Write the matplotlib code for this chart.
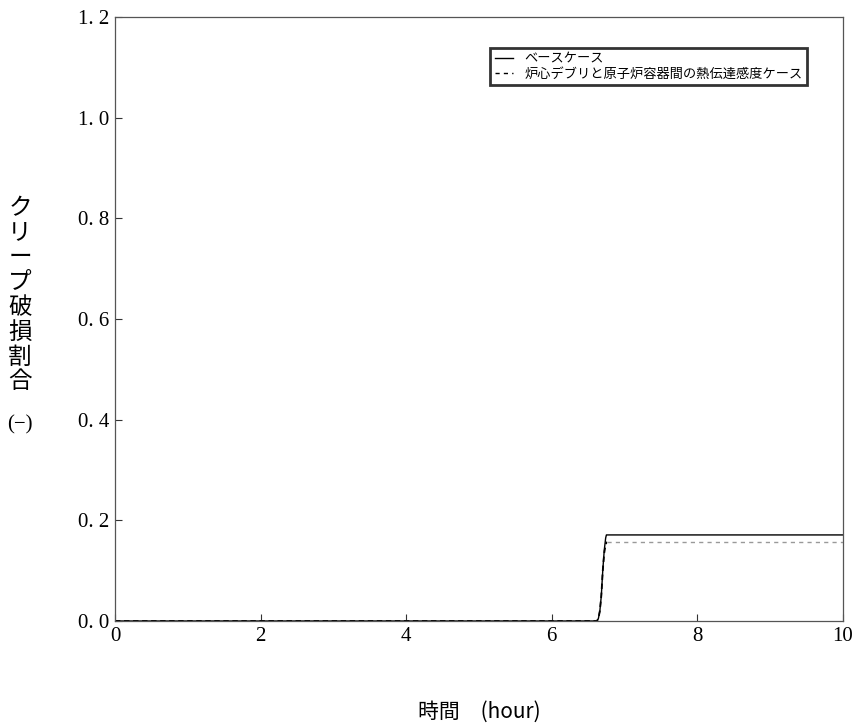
import matplotlib
matplotlib.use("Agg")
import matplotlib.pyplot as plt

# Data
base_t = [0.0, 6.62, 6.64, 6.66, 6.68, 6.70, 6.72, 6.74, 6.75, 6.76, 10.0]
base_v = [0.0, 0.0, 0.005, 0.02, 0.05, 0.10, 0.14, 0.165, 0.171, 0.171, 0.171]
sens_t = [0.0, 6.62, 6.64, 6.66, 6.68, 6.70, 6.72, 6.74, 6.75, 6.76, 10.0]
sens_v = [0.0, 0.0, 0.005, 0.02, 0.05, 0.10, 0.135, 0.152, 0.156, 0.156, 0.156]
xticks = [0, 2, 4, 6, 8, 10]
yticks = [0.0, 0.2, 0.4, 0.6, 0.8, 1.0, 1.2]
ytick_labels = ["0. 0", "0. 2", "0. 4", "0. 6", "0. 8", "1. 0", "1. 2"]
labels = ["ベースケース", "炉心デブリと原子炉容器間の熱伝達感度ケース"]

jp = ["Noto Sans CJK JP", "DejaVu Sans"]
serif = "Liberation Serif"

fig = plt.figure(figsize=(8.56, 7.23), dpi=100)
ax = fig.add_axes([115/856, 1-621/723, (843-115)/856, (621-17)/723])

ax.plot(base_t, base_v, color="black", lw=1.0, label=labels[0])
# sensitivity: black dashes during rise, gray dashed afterwards
ax.plot(sens_t[:10], sens_v[:10], color="black", lw=1.3, ls=(0, (3, 2)))
ax.plot(sens_t[9:], sens_v[9:], color="#999999", lw=1.0, ls=(0, (3, 3)))
ax.plot([], [], color="black", lw=1.0, ls=(0, (3, 3)), label=labels[1])

ax.set_xlim(0, 10)
ax.set_ylim(0, 1.2)
ax.set_xticks(xticks)
ax.set_xticklabels([str(v) for v in xticks], fontfamily=serif, fontsize=15)
ax.set_yticks(yticks)
ax.set_yticklabels(ytick_labels, fontfamily=serif, fontsize=15)
ax.tick_params(direction="in", length=5, width=0.8, color="#333333", pad=4)
for s in ax.spines.values():
    s.set_color("#555555")
    s.set_linewidth(0.9)

leg = ax.legend(loc="upper left", bbox_to_anchor=((490-115)/728, 1-(48-17)/604),
                prop={"family": jp, "size": 9.5}, frameon=True, fancybox=False,
                shadow=False, borderpad=0.35, labelspacing=0.15, handlelength=1.4,
                handletextpad=0.85, borderaxespad=0)
leg.get_frame().set_edgecolor("black")
leg.get_frame().set_linewidth(2.0)

# y label stacked vertically
fig.text(20/856, 1-295/723, "ク\nリ\nー\nプ\n破\n損\n割\n合", ha="center", va="center",
         fontfamily=jp, fontsize=17, linespacing=1.1)
fig.text(20/856, 1-425/723, "(−)", ha="center", va="center", fontfamily=serif, fontsize=15)
fig.text(479/856, 1-712/723, "時間　(hour)", ha="center", va="center",
         fontfamily=jp, fontsize=15)

fig.savefig("out.png", dpi=100)
